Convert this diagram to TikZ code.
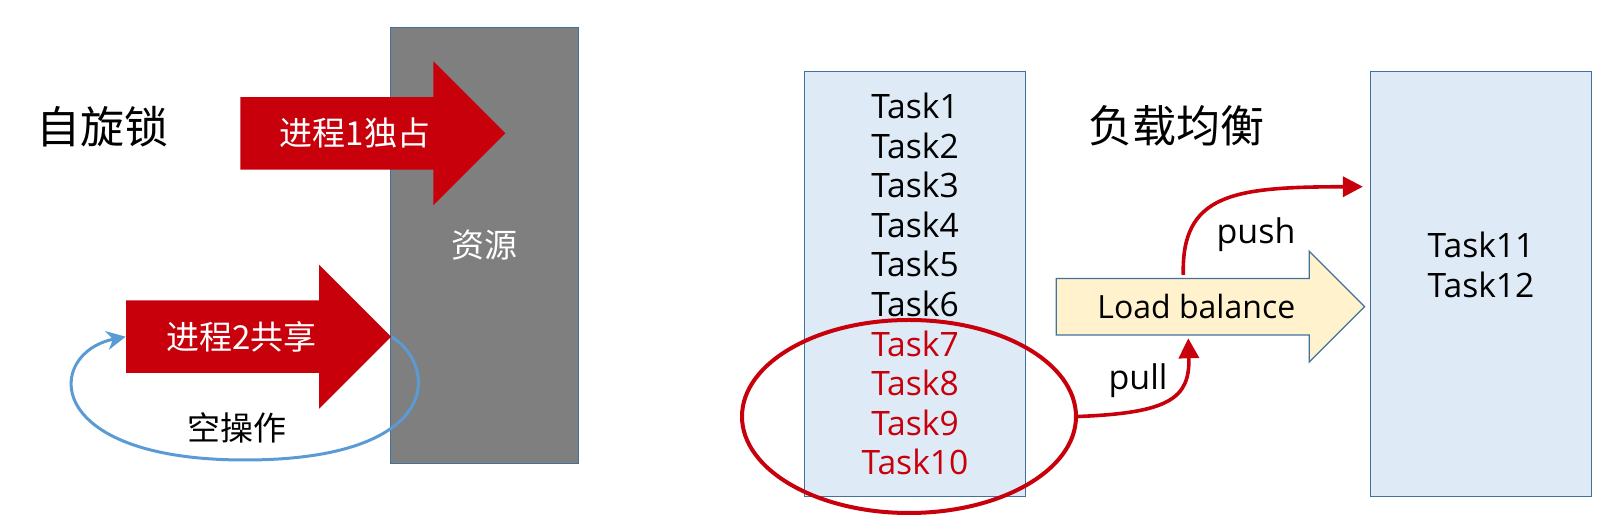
\documentclass[tikz,border=0pt]{standalone}
\usepackage{fontspec}
\setmainfont{Open Sans}
\newfontfamily\cjk{Noto Sans CJK SC}
\usepackage{xcolor}
\usetikzlibrary{positioning, arrows.meta, shapes.geometric, shapes.arrows, calc}

\definecolor{lockred}{HTML}{C7000B}
\definecolor{resgray}{HTML}{7F7F7F}
\definecolor{edgeblue}{HTML}{41719C}
\definecolor{queuefill}{HTML}{DEEBF7}
\definecolor{balfill}{HTML}{FFF2CC}
\definecolor{loopblue}{HTML}{5B9BD5}

\begin{document}
\begin{tikzpicture}[
  x=0.5pt, y=0.5pt,
  title/.style={font=\cjk\fontsize{22}{26}\selectfont},
  cjklabel/.style={font=\cjk\fontsize{16.5}{20}\selectfont, inner sep=0pt},
  resource/.style={cjklabel, draw=edgeblue, line width=0.6pt, fill=resgray, text=white, minimum width=94pt, minimum height=218pt},
  procarrow/.style={single arrow, fill=lockred, single arrow head extend=17.9pt, single arrow head indent=0pt, minimum height=132.5pt, inner sep=0pt, text height=35.85pt, text depth=0pt, anchor=tail},
  queue/.style={draw=edgeblue, line width=0.6pt, fill=queuefill, minimum width=110.7pt, minimum height=212.5pt, inner sep=0pt},
  tasks/.style={align=center, font=\fontsize{16.8}{19.8}\selectfont, inner sep=0pt},
  balarrow/.style={single arrow, fill=balfill, draw=edgeblue, line width=0.6pt, single arrow head extend=13.6pt, single arrow head indent=0pt, minimum height=154.15pt, inner sep=0pt, text height=27.65pt, text depth=0pt, anchor=tail},
  flowarrow/.style={-{Triangle[length=10pt, width=10pt]}, line width=1.8pt, draw=lockred},
  loopline/.style={-{Stealth[length=9.5pt, width=9.5pt, inset=3pt]}, line width=1.5pt, draw=loopblue},
  flowlabel/.style={font=\fontsize{17}{20}\selectfont, anchor=base, inner sep=0pt}
]
\useasboundingbox (0,0) rectangle (1612,518);

\node[title] (spin) at (102.8,391.3) {自旋锁};
\node[resource] (res) at (484.75,272.5) {资源};
\node[procarrow] (p1) at (240,384.7) {};
\node[cjklabel, text=white] (p1text) at ($(p1.tail)!0.432!(p1.tip)$) {进程1独占};
\node[procarrow] (p2) at (125.7,181.3) {};
\node[cjklabel, text=white] (p2text) at ($(p2.tail)!0.435!(p2.tip)$) {进程2共享};
\draw[loopline] (p2.tip) .. controls (440,150) and (440,58) .. (245,58) .. controls (40,58) and (45,165) .. (p2.tail);
\node[cjklabel] (nop) at (237,90) {空操作};

\node[queue, tasks] (runq) at (915,233.8) {Task1\\Task2\\Task3\\Task4\\Task5\\Task6\\\textcolor{lockred}{Task7}\\\textcolor{lockred}{Task8}\\\textcolor{lockred}{Task9}\\\textcolor{lockred}{Task10}};
\node[draw=lockred, line width=2pt, ellipse, minimum width=167pt, minimum height=96.5pt, inner sep=0pt] (grp) at (909,101.5) {};
\node[title] (balance) at (1176,392.5) {负载均衡};
\node[balarrow] (lb) at (1055.7,211.3) {};
\node[font=\fontsize{16}{19}\selectfont, inner sep=0pt] (lbtext) at ($(lb.tail)!0.454!(lb.tip)$) {Load balance};
\node[queue] (doneq) at (1480.85,233.8) {};
\node[tasks] (donelist) at (1481,253) {Task11\\Task12};
\coordinate (pushto) at ([shift={(-6.7,97.5)}]doneq.west);

\draw[flowarrow] ([shift={(127.6,31.7)}]lb.tail) .. controls (1181,325) and (1235,331) .. (pushto);
\draw[flowarrow] (grp.east) .. controls (1170,105) and (1190,120) .. ([shift={(132.6,-31.6)}]lb.tail);
\node[flowlabel] (pushtext) at (1256,274.7) {push};
\node[flowlabel] (pulltext) at (1138,128) {pull};

\end{tikzpicture}
\end{document}
